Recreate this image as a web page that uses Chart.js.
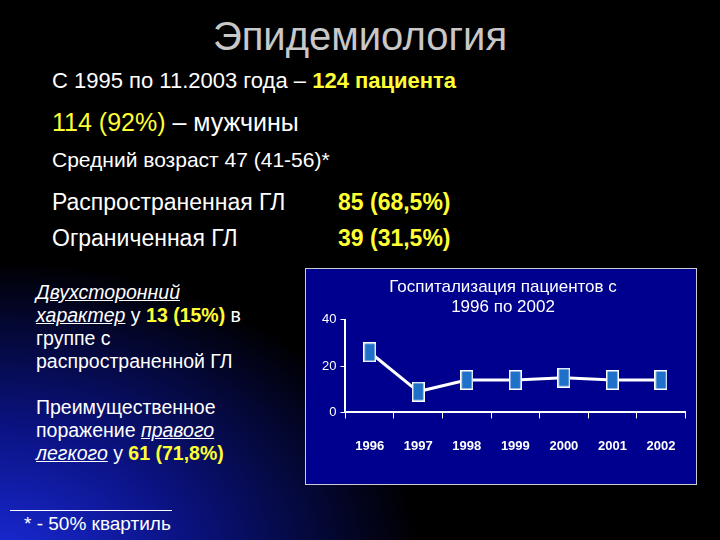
<!DOCTYPE html>
<html><head><meta charset="utf-8">
<script src="https://cdn.jsdelivr.net/npm/chart.js@4"></script>
<style>
body{margin:0;width:720px;height:540px;overflow:hidden;font-family:"Liberation Sans",Arial,sans-serif;color:#fff;
background:radial-gradient(ellipse 420px 300px at 0px 560px,#1a2ad8 0%,#0a1280 45%,#000 100%);position:relative}
.t{position:absolute;white-space:nowrap}
.y{color:#ffff33;font-weight:bold}
u i{font-style:italic}
#box{position:absolute;left:305px;top:268px;width:392px;height:217px;background:#00008f;border:1px solid #ccc;box-sizing:border-box}
</style></head><body>
<div class="t" style="left:0;width:720px;text-align:center;top:14px;font-size:40px;color:#c8c8c8">Эпидемиология</div>
<div class="t" style="left:52px;top:68px;font-size:22px">С 1995 по 11.2003 года – <span class="y">124 пациента</span></div>
<div class="t" style="left:52px;top:108px;font-size:25px"><span class="y" style="font-weight:normal">114 (92%)</span> – мужчины</div>
<div class="t" style="left:52px;top:148px;font-size:21px">Средний возраст 47 (41-56)*</div>
<div class="t" style="left:52px;top:189px;font-size:23px">Распространенная ГЛ</div>
<div class="t y" style="left:338px;top:189px;font-size:23px">85 (68,5%)</div>
<div class="t" style="left:52px;top:225px;font-size:23px">Ограниченная ГЛ</div>
<div class="t y" style="left:338px;top:225px;font-size:23px">39 (31,5%)</div>
<div class="t" style="left:36px;top:281px;font-size:19.5px;line-height:23px;white-space:normal;width:230px">
<u><i>Двухсторонний</i></u><br><u><i>характер</i></u> у <span class="y">13 (15%)</span> в группе с распространенной ГЛ<br><br>
Преимущественное поражение <u><i>правого</i></u> <u><i>легкого</i></u> у <span class="y">61 (71,8%)</span></div>
<div style="position:absolute;left:10px;top:510px;width:162px;border-top:1px solid #fff"></div>
<div class="t" style="left:24px;top:513px;font-size:19px">* - 50% квартиль</div>
<div id="box"><canvas id="c" width="390" height="215"></canvas></div>
<script>
const years=["1996","1997","1998","1999","2000","2001","2002"];
const patients=[26,9,14,14,15,14,14];
const yTicks=[0,20,40];
const pt=document.createElement('canvas');pt.width=13;pt.height=20;
const g=pt.getContext('2d');g.fillStyle='#1f70c8';g.fillRect(0,0,13,20);g.strokeStyle='#fff';g.lineWidth=1.5;g.strokeRect(0.75,0.75,11.5,18.5);
new Chart(document.getElementById('c'),{type:'line',
data:{labels:years,datasets:[{data:patients,borderColor:'#fff',borderWidth:3,pointStyle:pt,tension:0}]},
options:{responsive:false,animation:false,
layout:{padding:{left:12,right:8,top:0,bottom:10}},
plugins:{legend:{display:false},tooltip:{enabled:false},
title:{display:true,text:['Госпитализация пациентов с','1996 по 2002'],color:'#fff',font:{size:17,family:'Liberation Sans',weight:'normal'},padding:{top:8,bottom:2},lineHeight:1.2}},
scales:{
x:{offset:true,grid:{display:true,drawOnChartArea:false,color:'#fff',tickLength:6,offset:true},border:{color:'#fff',width:2},
 ticks:{color:'#fff',font:{size:13,weight:'bold',family:'Liberation Sans'},padding:20}},
y:{min:0,max:40,afterBuildTicks:a=>{a.ticks=yTicks.map(v=>({value:v}))},grid:{display:true,drawOnChartArea:false,color:'#fff',tickLength:5},border:{color:'#fff',width:2},
 ticks:{color:'#fff',font:{size:13,family:'Liberation Sans'},padding:4}}}}});
</script>
</body></html>
